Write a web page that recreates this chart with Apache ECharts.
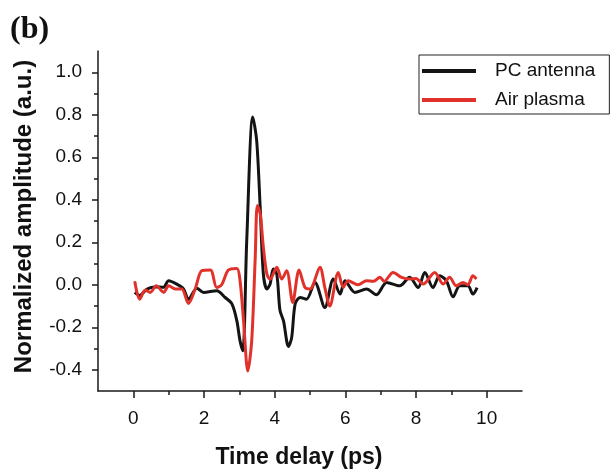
<!DOCTYPE html>
<html>
<head>
<meta charset="utf-8">
<script src="https://cdn.jsdelivr.net/npm/echarts@6/dist/echarts.min.js"></script>
<style>html,body{margin:0;padding:0;background:#fff;}#c{width:611px;height:470px;}</style>
</head>
<body>
<div id="c"></div>
<script>
var pcTime = [0.04,0.18,0.39,0.62,0.85,1.0,1.23,1.42,1.56,1.8,1.99,2.36,2.6,2.79,2.93,3.02,3.1,3.21,3.38,3.49,3.59,3.68,3.78,3.87,3.96,4.06,4.15,4.25,4.39,4.48,4.58,4.72,4.9,5.14,5.42,5.66,5.85,5.99,6.27,6.6,6.88,7.17,7.54,7.82,8.06,8.25,8.48,8.67,8.86,9.05,9.24,9.47,9.61,9.73];
var pcAmp = [-0.036,-0.05,-0.02,-0.01,-0.012,0.019,0.003,-0.02,-0.068,-0.016,-0.036,-0.028,-0.06,-0.09,-0.17,-0.264,-0.31,0.21,0.79,0.68,0.365,0.05,-0.02,0.003,0.074,0.05,-0.12,-0.17,-0.29,-0.25,-0.09,-0.06,-0.068,0.011,-0.107,0.027,-0.044,0.019,-0.036,-0.02,-0.047,0.011,-0.005,0.035,-0.013,0.058,-0.013,0.042,0.019,-0.057,-0.005,-0.005,-0.044,-0.013];
var airTime = [0.04,0.18,0.34,0.48,0.65,0.86,1.0,1.19,1.37,1.56,1.75,1.94,2.18,2.36,2.5,2.69,2.93,3.02,3.12,3.24,3.35,3.45,3.51,3.59,3.68,3.78,3.87,4.06,4.2,4.34,4.51,4.69,4.86,5.0,5.28,5.42,5.56,5.8,5.94,6.08,6.36,6.6,6.8,6.98,7.1,7.35,7.59,7.82,8.0,8.2,8.53,8.77,8.95,9.14,9.33,9.47,9.61,9.71];
var airAmp = [0.016,-0.068,-0.025,-0.036,-0.005,-0.036,-0.005,-0.02,-0.02,-0.088,-0.02,0.066,0.069,-0.013,0.0,0.069,0.077,0.019,-0.17,-0.406,-0.264,0.13,0.373,0.335,0.176,0.05,0.026,0.082,0.027,0.066,-0.083,0.069,-0.013,-0.02,0.082,-0.013,-0.1,0.058,-0.013,0.019,0.0,0.019,0.016,0.035,0.016,0.058,0.035,0.027,0.03,0.003,0.058,0.003,0.035,-0.005,0.011,0.0,0.042,0.027];
var xTicks = [0,2,4,6,8,10];
var xMinorTicks = [1,3,5,7,9];
var yTicks = [-0.4,-0.2,0.0,0.2,0.4,0.6,0.8,1.0];
var yMinorTicks = [-0.3,-0.1,0.1,0.3,0.5,0.7,0.9];
var seriesNames = ['PC antenna','Air plasma'];

function pairs(t, v){ return t.map(function(x,i){ return [x, v[i]]; }); }

var chart = echarts.init(document.getElementById('c'), null, {renderer:'canvas'});
var font = 'Liberation Sans, Arial, sans-serif';
var axisLineStyle = {color:'#1a1a1a', width:1.5};
chart.setOption({
  animation:false,
  backgroundColor:'#fff',
  title:{text:'(b)', left:5, top:9, textStyle:{fontFamily:'Liberation Serif, DejaVu Serif, serif', fontWeight:'bold', fontSize:32, color:'#111'}},
  grid:{left:98, right:89, top:51, bottom:79, outerBoundsMode:'none', containLabel:false},
  legend:{
    data:seriesNames, orient:'vertical', left:419, top:55,
    padding:[6,14,4,3], itemGap:9, itemWidth:54, itemHeight:4, icon:'rect',
    borderColor:'#222', borderWidth:1,
    textStyle:{fontFamily:font, fontSize:19, color:'#111', lineHeight:20, padding:[0,0,0,14]}
  },
  xAxis:[{
    type:'value', min:-1, max:11,
    name:'Time delay (ps)', nameLocation:'middle', nameGap:55,
    nameTextStyle:{fontFamily:font, fontWeight:'bold', fontSize:23, color:'#111', padding:[0,22,0,0]},
    axisLine:{show:true, onZero:false, lineStyle:axisLineStyle},
    axisTick:{show:true, length:7, customValues:xTicks, lineStyle:axisLineStyle},
    axisLabel:{customValues:xTicks, margin:18, fontFamily:font, fontSize:19, color:'#111'},
    splitLine:{show:false}
  },{
    type:'value', min:-1, max:11, position:'bottom',
    axisLine:{show:false, onZero:false},
    axisTick:{show:true, length:4, customValues:xMinorTicks, lineStyle:axisLineStyle},
    axisLabel:{show:false}, splitLine:{show:false}
  }],
  yAxis:[{
    type:'value', min:-0.5, max:1.1,
    name:'Normalized amplitude (a.u.)', nameLocation:'middle', nameGap:62,
    nameTextStyle:{fontFamily:font, fontWeight:'bold', fontSize:24, color:'#111', padding:[0,0,0,9]},
    axisLine:{show:true, onZero:false, lineStyle:axisLineStyle},
    axisTick:{show:true, length:6, customValues:yTicks, lineStyle:axisLineStyle},
    axisLabel:{customValues:yTicks, margin:16, fontFamily:font, fontSize:19, color:'#111',
      formatter:function(v){ return v.toFixed(1); }},
    splitLine:{show:false}
  },{
    type:'value', min:-0.5, max:1.1, position:'left',
    axisLine:{show:false, onZero:false},
    axisTick:{show:true, length:4, customValues:yMinorTicks, lineStyle:axisLineStyle},
    axisLabel:{show:false}, splitLine:{show:false}
  }],
  series:[{
    name:seriesNames[0], type:'line', xAxisIndex:0, yAxisIndex:0,
    data:pairs(pcTime, pcAmp), smooth:0.3, symbol:'none',
    color:'#141414', lineStyle:{color:'#141414', width:3}
  },{
    name:seriesNames[1], type:'line', xAxisIndex:0, yAxisIndex:0,
    data:pairs(airTime, airAmp), smooth:0.3, symbol:'none',
    color:'#e0322b', lineStyle:{color:'#e0322b', width:3}
  }]
});
</script>
</body>
</html>
